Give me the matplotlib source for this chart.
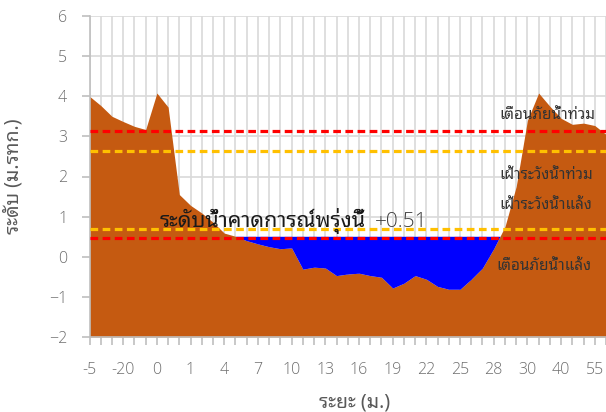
import matplotlib
matplotlib.use("Agg")
import matplotlib.pyplot as plt
import numpy as np

# ---- data ----
distance = ['-5', '-40', '-30', '-20', '-10', '-5', '0', '0.5', '0.8', '1', '2', '3',
            '4', '5', '6', '7', '8', '9', '10', '11', '12', '13', '14', '15',
            '16', '17', '18', '19', '20', '21', '22', '23', '24', '25', '26', '27',
            '28', '28.5', '29', '30', '35', '38', '40', '45', '50', '55', '60']
ground = [4.00, 3.77, 3.50, 3.37, 3.25, 3.17, 4.08, 3.73, 1.55, 1.28, 1.09, 0.86,
          0.59, 0.51, 0.40, 0.32, 0.25, 0.20, 0.22, -0.31, -0.26, -0.28, -0.47, -0.43,
          -0.41, -0.47, -0.51, -0.78, -0.66, -0.47, -0.56, -0.74, -0.81, -0.81, -0.56, -0.28,
          0.20, 0.75, 1.75, 3.40, 4.08, 3.75, 3.45, 3.30, 3.33, 3.27, 3.05]
water_level = 0.51
flood_warning = 3.13
flood_watch = 2.64
drought_watch = 0.69
drought_warning = 0.47
base_level = -2

thai = ['Noto Sans Thai Looped', 'Sarabun', 'Noto Sans Thai', 'Noto Sans', 'DejaVu Sans']
latin = ['Open Sans', 'Noto Sans', 'DejaVu Sans']
plt.rcParams['font.family'] = thai

x = np.arange(len(ground))
g = np.array(ground)

fig = plt.figure(figsize=(6.06, 4.12), dpi=100)
ax = fig.add_axes([89.5/606, 75/412, 1 - 89.5/606, 321/412])

ax.fill_between(x, g, base_level, color='#C55A11', lw=0, zorder=2)
ax.fill_between(x, g, water_level, where=g < water_level, interpolate=True,
                color='#0000FF', lw=0, zorder=2)

dash = (0, (2.4, 1.4))
for lvl, col in [(flood_warning, '#FF0000'), (flood_watch, '#FFC000'),
                 (drought_watch, '#FFC000'), (drought_warning, '#FF0000')]:
    ax.axhline(lvl, color=col, lw=2.3, linestyle=dash, zorder=3)

ax.set_xlim(0, 45.62)
ax.set_ylim(-2, 6)
ax.set_yticks(range(-2, 7))
ax.set_xticks(x[::3])
ax.set_xticklabels(distance[::3])
ax.set_xticks(x, minor=True)

ax.grid(True, which='both', axis='x', color='#D9D9D9', lw=1.2, zorder=0)
ax.grid(True, which='major', axis='y', color='#D9D9D9', lw=1.2, zorder=0)
ax.set_axisbelow(True)

for s in ['top', 'right']:
    ax.spines[s].set_visible(False)
for s in ['left', 'bottom']:
    ax.spines[s].set_color('#BFBFBF')
    ax.spines[s].set_linewidth(1.2)

ax.tick_params(axis='y', length=6, color='#BFBFBF', width=1.2, labelsize=11.5,
               labelcolor='#6E6E6E', pad=10)
ax.tick_params(axis='x', which='both', length=6, color='#BFBFBF', width=1.2)
ax.tick_params(axis='x', which='major', labelsize=11.5, labelcolor='#6E6E6E', pad=12)
for lab in ax.get_xticklabels() + ax.get_yticklabels():
    lab.set_family(latin)
    lab.set_fontweight('light')

ax.set_xlabel('ระยะ (ม.)', fontsize=14, fontweight='bold', color='#595959', va='center')
ax.xaxis.set_label_coords(0.514, -0.2025)
ax.set_ylabel('ระดับ (ม.รทก.)', fontsize=14, fontweight='bold', color='#595959', va='center')
ax.yaxis.set_label_coords(-0.148, 0.5)

note = dict(fontsize=11, color='#333333', va='baseline', zorder=4)
ax.text(36.5, 3.44, 'เตือนภัยน้ำท่วม', **note)
ax.text(36.5, 1.92, 'เฝ้าระวังน้ำท่วม', **note)
ax.text(36.5, 1.17, 'เฝ้าระวังน้ำแล้ง', **note)
ax.text(36.2, -0.32, 'เตือนภัยน้ำแล้ง', **note)
ax.text(6.23, 0.75, 'ระดับน้ำคาดการณ์พรุ่งนี้', fontsize=15.5, color='#1A1A1A',
        va='baseline', zorder=4)
ax.text(25.4, 0.75, '+%.2f' % water_level, fontsize=15, color='#404040',
        va='baseline', zorder=4, fontweight='light', family=latin)

fig.savefig('out.png', dpi=100)
